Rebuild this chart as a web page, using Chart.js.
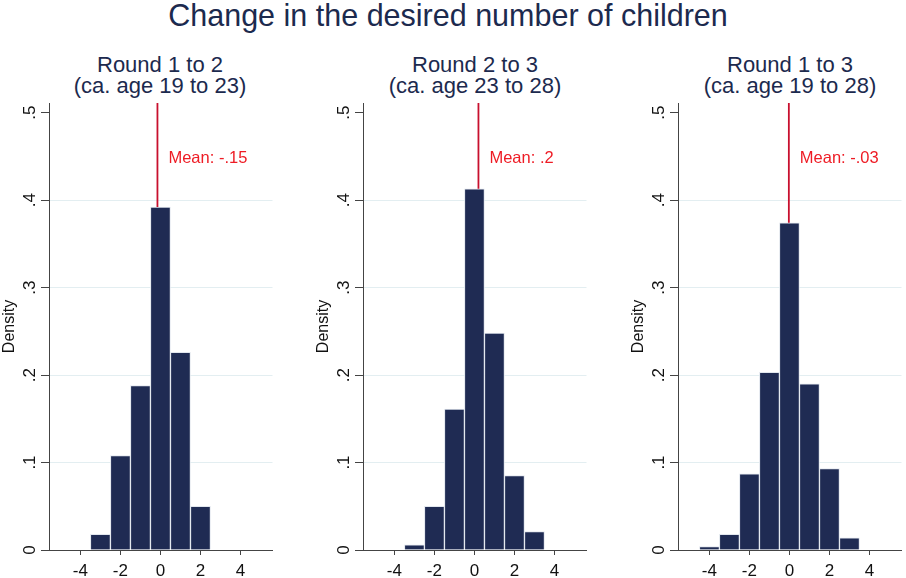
<!DOCTYPE html>
<html>
<head>
<meta charset="utf-8">
<script src="https://cdn.jsdelivr.net/npm/chart.js@4"></script>
<style>
    body { margin: 0; width: 906px; height: 578px; overflow: hidden; background: #fff; position: relative;
           font-family: "Liberation Sans", Arial, sans-serif; }
    #title { position: absolute; left: 0; top: 0; width: 896px; text-align: center;
             font-size: 30.5px; line-height: 30px; color: #1c2a4e; }
    .sub { position: absolute; top: 54px; width: 240px; text-align: center;
           font-size: 22px; line-height: 21px; color: #1c2a4e; }
    canvas { position: absolute; top: 0; }
</style>
</head>
<body>
<div id="title">Change in the desired number of children</div>
<div class="sub" style="left:40px">Round 1 to 2<br>(ca. age 19 to 23)</div>
<div class="sub" style="left:355px">Round 2 to 3<br>(ca. age 23 to 28)</div>
<div class="sub" style="left:670px">Round 1 to 3<br>(ca. age 19 to 28)</div>
<canvas id="c1" width="280" height="578" style="left:0px"></canvas>
<canvas id="c2" width="280" height="578" style="left:314px"></canvas>
<canvas id="c3" width="280" height="578" style="left:629px"></canvas>

<script>
// Werte
const bins12 = [-3, -2, -1, 0, 1, 2];
const density12 = [0.018, 0.108, 0.188, 0.392, 0.226, 0.050];
const mean12 = -0.15;

const bins23 = [-3, -2, -1, 0, 1, 2, 3];
const density23 = [0.006, 0.050, 0.161, 0.413, 0.248, 0.085, 0.021];
const mean23 = 0.2;

const bins13 = [-4, -3, -2, -1, 0, 1, 2, 3];
const density13 = [0.004, 0.018, 0.087, 0.203, 0.374, 0.190, 0.093, 0.014];
const mean13 = -0.03;

const meanLabels = ['Mean: -.15', 'Mean: .2', 'Mean: -.03'];

const xTickValues = [-4, -2, 0, 2, 4];
const yTickValues = [0, 0.1, 0.2, 0.3, 0.4, 0.5];
const yTickLabels = ['0', '.1', '.2', '.3', '.4', '.5'];

const xMin = -5.57, xMax = 5.6;
const yMax = 0.511;
const fontFamily = '"Liberation Sans", Arial, sans-serif';

Chart.defaults.font.family = fontFamily;

// gedrehte y-Beschriftungen und Mean-Text
const extraText = {
    id: 'extraText',
    afterDraw(chart, args, opts) {
        const ctx = chart.ctx;
        const xs = chart.scales.x, ys = chart.scales.y;
        ctx.save();
        ctx.font = '17px ' + fontFamily;
        ctx.fillStyle = '#111';
        ctx.textAlign = 'center';
        ctx.textBaseline = 'alphabetic';
        yTickValues.forEach((v, i) => {
            ctx.save();
            ctx.translate(chart.chartArea.left - 14, ys.getPixelForValue(v));
            ctx.rotate(-Math.PI / 2);
            ctx.fillText(yTickLabels[i], 0, 0);
            ctx.restore();
        });
        ctx.font = '16.5px ' + fontFamily;
        ctx.fillStyle = '#ee1c25';
        ctx.textAlign = 'left';
        ctx.fillText(opts.label, xs.getPixelForValue(opts.mean) + 11, ys.getPixelForValue(0.442));
        ctx.restore();
    }
};

function makePanel(id, bins, dens, mean, label) {
    const zeroBar = dens[bins.indexOf(0)];
    new Chart(document.getElementById(id), {
        type: 'bar',
        data: {
            datasets: [{
                type: 'bar',
                data: bins.map((b, i) => ({ x: b, y: dens[i] })),
                backgroundColor: '#1f2b53',
                borderColor: '#e2e7ee',
                borderWidth: 1,
                borderSkipped: 'start',
                barPercentage: 1,
                categoryPercentage: 1,
                order: 2
            }, {
                type: 'line',
                data: [{ x: mean, y: yMax }, { x: mean, y: zeroBar }],
                borderColor: '#c8102e',
                borderWidth: 1.8,
                pointRadius: 0,
                order: 1
            }]
        },
        options: {
            responsive: false,
            animation: false,
            layout: { padding: { top: 103, right: 7.5, left: 0, bottom: 0 } },
            plugins: {
                legend: { display: false },
                tooltip: { enabled: false },
                extraText: { label: label, mean: mean }
            },
            scales: {
                x: {
                    type: 'linear',
                    min: xMin,
                    max: xMax,
                    offset: false,
                    afterBuildTicks: s => { s.ticks = xTickValues.map(v => ({ value: v })); },
                    afterFit: s => { s.height = 28; },
                    grid: { offset: false, drawOnChartArea: false, tickLength: 5, tickColor: '#444' },
                    border: { color: '#444' },
                    ticks: { font: { size: 17 }, color: '#111', padding: 6, maxRotation: 0 }
                },
                y: {
                    min: 0,
                    max: yMax,
                    afterBuildTicks: s => { s.ticks = yTickValues.map(v => ({ value: v })); },
                    afterFit: s => { s.width = 49; },
                    grid: {
                        color: c => (c.tick && c.tick.value > 0 && c.tick.value < 0.45) ? '#e3eef1' : 'rgba(0,0,0,0)',
                        tickLength: 8,
                        tickColor: '#444'
                    },
                    border: { color: '#444' },
                    ticks: { display: false },
                    title: { display: true, text: 'Density', font: { size: 16 }, color: '#111', padding: 0 }
                }
            }
        },
        plugins: [extraText]
    });
}

makePanel('c1', bins12, density12, mean12, meanLabels[0]);
makePanel('c2', bins23, density23, mean23, meanLabels[1]);
makePanel('c3', bins13, density13, mean13, meanLabels[2]);
</script>
</body>
</html>
